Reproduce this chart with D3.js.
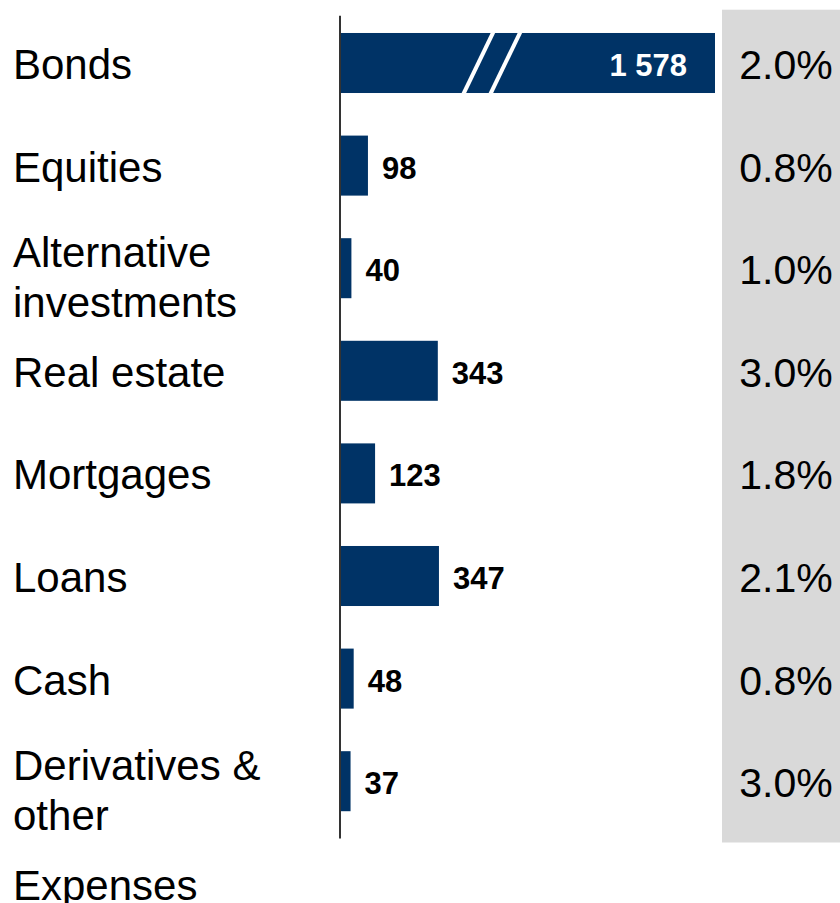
<!DOCTYPE html>
<html>
<head>
<meta charset="utf-8">
<script src="https://cdn.jsdelivr.net/npm/d3@7"></script>
<style>
  html, body { margin: 0; padding: 0; background: #ffffff; }
  svg { display: block; }
  text { font-family: "Liberation Sans", Arial, Helvetica, sans-serif; }
</style>
</head>
<body>
<svg id="chart" width="840" height="903"></svg>
<script>
// Asset classes (line breaks mark wrapped labels)
const categories = [
  "Bonds",
  "Equities",
  "Alternative\ninvestments",
  "Real estate",
  "Mortgages",
  "Loans",
  "Cash",
  "Derivatives &\nother",
  "Expenses"
];
// Holdings per asset class
const values = [1578, 98, 40, 343, 123, 347, 48, 37, null];
// Yield per asset class, shown in the side panel
const yields = ["2.0%", "0.8%", "1.0%", "3.0%", "1.8%", "2.1%", "0.8%", "3.0%", null];

const rows = categories.map((c, i) => ({ key: c, lines: c.split("\n"), value: values[i], yld: yields[i] }));
const barRows = rows.filter(d => d.value != null);

const svg = d3.select("#chart");
const navy = "#003366";

const rowStep = 102.6;
const rowTop = 11.7;
const y = d3.scaleBand()
  .domain(categories)
  .range([rowTop, rowTop + rowStep * categories.length])
  .paddingInner(0.415)
  .paddingOuter(0.2075);

// Value axis; the largest bar is cut at the right end and gets a break mark
const x = d3.scaleLinear().domain([0, 1315]).range([340, 715]).clamp(true);

const fmt = d3.formatLocale({ decimal: ".", thousands: " ", grouping: [3], currency: ["", ""] }).format(",");

const chartBottom = y.range()[0] + rowStep * barRows.length;

// Yield panel
svg.append("rect")
  .attr("x", 722).attr("y", y.range()[0] - 2)
  .attr("width", 118).attr("height", chartBottom - y.range()[0] + 12)
  .attr("fill", "#d9d9d9");

// Bars
svg.append("g").selectAll("rect")
  .data(barRows)
  .join("rect")
  .attr("x", x(0))
  .attr("y", d => y(d.key))
  .attr("width", d => x(d.value) - x(0))
  .attr("height", y.bandwidth())
  .attr("fill", navy);

// Break mark on the clipped bar
const broken = barRows.filter(d => d.value > x.domain()[1]);
const breakCenter = x(0) + (x.range()[1] - x(0)) * 0.405;
const slant = 29, gap = 27, thick = 4.5;
svg.append("g").selectAll("g")
  .data(broken)
  .join("g")
  .each(function (d) {
    const y0 = y(d.key), y1 = y0 + y.bandwidth();
    [-gap / 2, gap / 2].forEach(off => {
      const cx = breakCenter + off;
      const xb = cx - slant / 2, xt = cx + slant / 2;
      d3.select(this).append("polygon")
        .attr("points", [
          [xb - thick / 2, y1], [xb + thick / 2, y1],
          [xt + thick / 2, y0], [xt - thick / 2, y0]
        ].map(p => p.join(",")).join(" "))
        .attr("fill", "#ffffff");
    });
  });

// Axis line
svg.append("line")
  .attr("x1", x(0)).attr("x2", x(0))
  .attr("y1", y.range()[0] + 4).attr("y2", chartBottom + 6)
  .attr("stroke", "#333333").attr("stroke-width", 2);

// Value labels
svg.append("g").selectAll("text")
  .data(barRows)
  .join("text")
  .attr("x", d => d.value > x.domain()[1] ? x(d.value) - 28 : x(d.value) + 14)
  .attr("y", d => y(d.key) + y.bandwidth() / 2 + 13)
  .attr("text-anchor", d => d.value > x.domain()[1] ? "end" : "start")
  .attr("font-size", 31)
  .attr("font-weight", "bold")
  .attr("fill", d => d.value > x.domain()[1] ? "#ffffff" : "#000000")
  .text(d => fmt(d.value));

// Yield labels
svg.append("g").selectAll("text")
  .data(barRows)
  .join("text")
  .attr("x", 786)
  .attr("y", d => y(d.key) + y.bandwidth() / 2 + 16)
  .attr("text-anchor", "middle")
  .attr("font-size", 41)
  .attr("fill", "#000000")
  .text(d => d.yld);

// Category labels
const cats = svg.append("g").selectAll("text")
  .data(rows)
  .join("text")
  .attr("x", 13)
  .attr("y", d => y(d.key) + y.bandwidth() / 2 + (d.lines.length > 1 ? -1 : 16))
  .attr("font-size", 42)
  .attr("fill", "#000000");
cats.selectAll("tspan")
  .data(d => d.lines)
  .join("tspan")
  .attr("x", 13)
  .attr("dy", (l, i) => i === 0 ? 0 : 50)
  .text(l => l);
</script>
</body>
</html>
